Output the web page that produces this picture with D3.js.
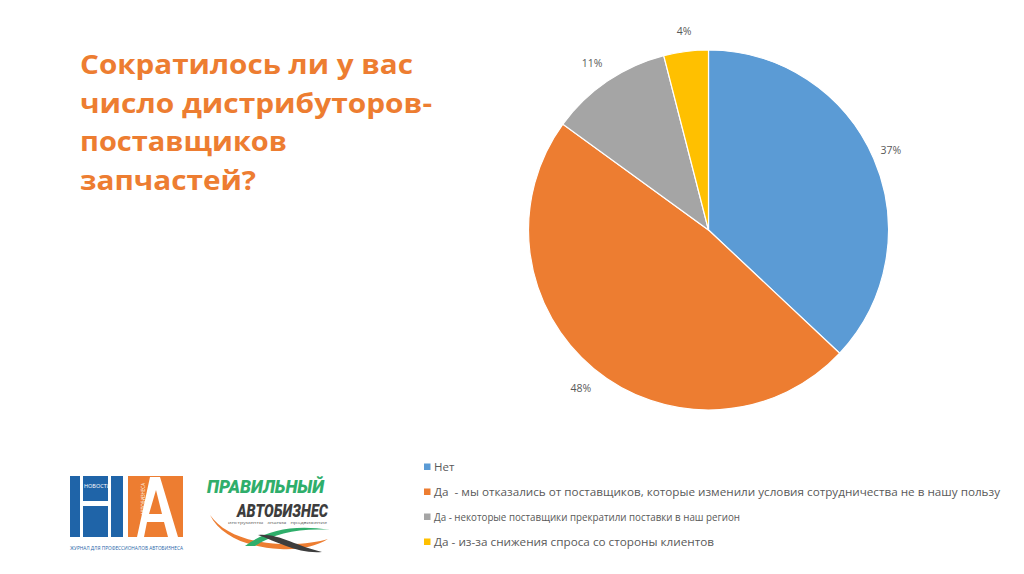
<!DOCTYPE html>
<html><head><meta charset="utf-8">
<script src="https://cdn.jsdelivr.net/npm/d3@7"></script>
<style>body{margin:0;background:#fff;} svg{display:block;} text{white-space:pre;}</style>
</head><body>
<svg id="c" width="1024" height="574"></svg>
<script>
const categories = [
  "Нет",
  "Да  - мы отказались от поставщиков, которые изменили условия сотрудничества не в нашу пользу",
  "Да - некоторые поставщики прекратили поставки в наш регион",
  "Да - из-за снижения спроса со стороны клиентов"
];
const values = [37, 48, 11, 4];
const colors = ["#5B9BD5", "#ED7D31", "#A5A5A5", "#FFC000"];
const titleLines = ["Сократилось ли у вас", "число дистрибуторов-", "поставщиков", "запчастей?"];

const svg = d3.select("#c");
const font = "'Open Sans', 'Noto Sans', sans-serif";

// Title
const titleWidths = [333, 352, 207, 176];
titleLines.forEach((t, i) => {
  svg.append("text").attr("x", 80).attr("y", 74 + i * 38.7)
    .attr("font-family", font).attr("font-weight", 700).attr("font-size", 26.5)
    .attr("fill", "#ED7D31").attr("textLength", titleWidths[i]).attr("lengthAdjust", "spacingAndGlyphs")
    .text(t);
});

// Pie
const cx = 708.5, cy = 230, r = 180;
const pie = d3.pie().sort(null).value(d => d)(values);
const arc = d3.arc().innerRadius(0).outerRadius(r);
const g = svg.append("g").attr("transform", `translate(${cx},${cy})`);
g.selectAll("path").data(pie).join("path")
  .attr("d", arc).attr("fill", (d, i) => colors[i])
  .attr("stroke", "#fff").attr("stroke-width", 1.2);

const labelArc = d3.arc().innerRadius(r + 22).outerRadius(r + 22);
const labelOffsets = [[-3, 1], [1, 3], [-3, 0], [1, 2]];
g.selectAll("text.lab").data(pie).join("text").attr("class", "lab")
  .attr("x", (d, i) => labelArc.centroid(d)[0] + labelOffsets[i][0])
  .attr("y", (d, i) => labelArc.centroid(d)[1] + labelOffsets[i][1])
  .attr("dy", "0.35em").attr("text-anchor", "middle")
  .attr("font-family", font).attr("font-size", 10.5).attr("fill", "#595959")
  .text(d => d3.format(".0f")(d.value) + "%");

// Legend
const legY = d3.scalePoint().domain(d3.range(categories.length)).range([467, 542]);
const leg = svg.append("g");
const legWidths = [null, 566, 306, 280];
categories.forEach((c, i) => {
  const y = legY(i);
  leg.append("rect").attr("x", 424).attr("y", y - 3.5).attr("width", 6.5).attr("height", 6.5).attr("fill", colors[i]);
  const t = leg.append("text").attr("x", 434).attr("y", y).attr("dy", "0.35em")
    .attr("font-family", font).attr("font-size", 11.5).attr("fill", "#595959").text(c);
  if (legWidths[i]) t.attr("textLength", legWidths[i]).attr("lengthAdjust", "spacingAndGlyphs");
});

// Logo 1 (НА)
const l1 = svg.append("g");
l1.append("rect").attr("x", 70).attr("y", 476).attr("width", 53).attr("height", 61).attr("fill", "#1F64A8");
l1.append("rect").attr("x", 80).attr("y", 476).attr("width", 3).attr("height", 61).attr("fill", "#fff");
l1.append("rect").attr("x", 108).attr("y", 476).attr("width", 3).attr("height", 61).attr("fill", "#fff");
l1.append("rect").attr("x", 83).attr("y", 501).attr("width", 25).attr("height", 5).attr("fill", "#fff");
l1.append("text").attr("x", 84).attr("y", 488).attr("font-family", font).attr("font-size", 5.5).attr("fill", "#fff").text("НОВОСТИ");
l1.append("rect").attr("x", 128).attr("y", 476).attr("width", 55).attr("height", 61).attr("fill", "#ED7D31");
l1.append("path").attr("d", "M137,537 L150,477 L160,477 L178,537 L168,537 L164,522 L147,522 L144,537 Z M149,514 L162,514 L156,490 Z").attr("fill", "#fff").attr("fill-rule", "evenodd");
l1.append("text").attr("transform", "translate(145,515) rotate(-90)").attr("font-family", font).attr("font-size", 4.5).attr("fill", "#fff").text("АВТОБИЗНЕСА");
l1.append("text").attr("x", 70).attr("y", 550).attr("font-family", font).attr("font-size", 4.6).attr("fill", "#1F64A8")
  .attr("textLength", 113).attr("lengthAdjust", "spacingAndGlyphs").text("ЖУРНАЛ ДЛЯ ПРОФЕССИОНАЛОВ АВТОБИЗНЕСА");

// Logo 2
const l2 = svg.append("g");
l2.append("text").attr("x", 207).attr("y", 493).attr("font-family", "'Roboto', sans-serif").attr("font-weight", 900)
  .attr("font-style", "italic").attr("font-size", 19).attr("fill", "#2FAE6B")
  .attr("textLength", 117).attr("lengthAdjust", "spacingAndGlyphs").text("ПРАВИЛЬНЫЙ");
l2.append("text").attr("x", 237).attr("y", 517).attr("font-family", "'Roboto', sans-serif").attr("font-weight", 900)
  .attr("font-style", "italic").attr("font-size", 19).attr("fill", "#3D3D3D")
  .attr("textLength", 91).attr("lengthAdjust", "spacingAndGlyphs").text("АВТОБИЗНЕС");
l2.append("text").attr("x", 228).attr("y", 524).attr("font-family", font).attr("font-size", 4.2).attr("fill", "#555")
  .attr("textLength", 99).attr("lengthAdjust", "spacingAndGlyphs").text("инструменты   знания   продвижение");
l2.append("path").attr("d", "M210,515 C222,532 245,542 280,544 C300,545 318,542 328,539 C315,547 298,550 280,549 C245,547 220,535 210,515 Z").attr("fill", "#ED7D31");
l2.append("path").attr("d", "M245,546 C265,531 292,524 330,530 C300,528 275,533 255,546 Z").attr("fill", "#2FAE6B");
l2.append("path").attr("d", "M258,535 C278,533 296,546 322,552 C298,554 278,542 258,535 Z").attr("fill", "#3D3D3D");
</script>
</body></html>
